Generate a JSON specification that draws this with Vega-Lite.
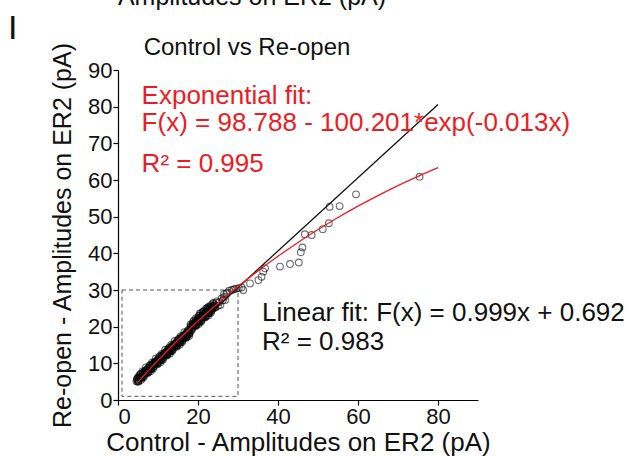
{
  "$schema": "https://vega.github.io/schema/vega-lite/v6.json",
  "width": 360,
  "height": 330,
  "autosize": {"type": "none"},
  "padding": {"left": 118, "top": 70, "right": 151, "bottom": 56},
  "background": "white",
  "config": {
    "view": {"stroke": null},
    "font": "Liberation Sans",
    "axis": {"domainColor": "#000", "tickColor": "#000", "labelColor": "#111", "titleColor": "#111", "grid": false, "labelFont": "Liberation Sans", "titleFont": "Liberation Sans", "titleFontWeight": "normal", "labelFontSize": 22, "titleFontSize": 25, "tickSize": 5, "domainWidth": 1.2, "tickWidth": 1.2, "labelOverlap": false}
  },
  "datasets": {
    "pts": [
      {"x":4.6,"y":5.1},{"x":4.9,"y":6.0},{"x":5.2,"y":5.2},{"x":5.5,"y":6.9},{"x":5.8,"y":6.0},{"x":6.1,"y":7.0},{"x":6.4,"y":6.2},{"x":6.7,"y":8.0},
      {"x":7.0,"y":7.5},{"x":7.3,"y":8.4},{"x":7.6,"y":7.6},{"x":7.9,"y":9.3},{"x":8.2,"y":8.4},{"x":8.5,"y":9.4},{"x":8.8,"y":8.6},{"x":9.1,"y":10.4},
      {"x":9.4,"y":9.9},{"x":9.7,"y":10.8},{"x":10.0,"y":10.0},{"x":10.3,"y":11.7},{"x":10.6,"y":10.8},{"x":10.9,"y":11.8},{"x":11.2,"y":11.0},{"x":11.5,"y":12.8},
      {"x":11.8,"y":12.3},{"x":12.1,"y":13.2},{"x":12.4,"y":12.4},{"x":12.7,"y":14.1},{"x":13.0,"y":13.2},{"x":13.3,"y":14.2},{"x":13.6,"y":13.4},{"x":13.9,"y":15.2},
      {"x":14.2,"y":14.7},{"x":14.5,"y":15.6},{"x":14.8,"y":14.8},{"x":15.1,"y":16.5},{"x":15.4,"y":15.6},{"x":15.7,"y":16.6},{"x":16.0,"y":15.8},{"x":16.3,"y":17.6},
      {"x":16.6,"y":17.1},{"x":16.9,"y":18.0},{"x":17.2,"y":17.2},{"x":17.5,"y":18.9},{"x":17.8,"y":18.0},{"x":18.1,"y":19.8},{"x":18.4,"y":19.0},{"x":18.7,"y":20.8},
      {"x":19.0,"y":20.3},{"x":19.3,"y":21.2},{"x":19.6,"y":20.4},{"x":19.9,"y":22.1},{"x":20.2,"y":21.2},{"x":20.5,"y":22.2},{"x":20.8,"y":21.4},{"x":21.1,"y":23.2},
      {"x":21.4,"y":22.7},{"x":21.7,"y":23.6},{"x":22.0,"y":22.8},{"x":22.3,"y":24.5},{"x":22.6,"y":23.6},{"x":22.9,"y":24.6},{"x":23.2,"y":23.8},{"x":23.5,"y":25.6},
      {"x":23.8,"y":25.1},{"x":24.1,"y":26.0},{"x":24.4,"y":25.2},{"x":24.7,"y":26.9},{"x":25.0,"y":25.7},{"x":25.3,"y":26.7},{"x":25.6,"y":25.9},{"x":25.9,"y":27.7},
      {"x":26.2,"y":27.2},{"x":26.5,"y":28.1},{"x":26.8,"y":27.3},{"x":27.1,"y":29.0},
      {"x":4.75,"y":5.75},{"x":5.05,"y":4.95},{"x":5.35,"y":6.05},{"x":5.65,"y":7.15},{"x":5.95,"y":6.25},{"x":6.25,"y":7.45},{"x":6.55,"y":6.65},{"x":6.85,"y":7.65},
      {"x":7.15,"y":8.15},{"x":7.45,"y":7.35},{"x":7.75,"y":8.45},{"x":8.05,"y":9.55},{"x":8.35,"y":8.65},{"x":8.65,"y":9.85},{"x":8.95,"y":9.05},{"x":9.25,"y":10.05},
      {"x":9.55,"y":10.55},{"x":9.85,"y":9.75},{"x":10.15,"y":10.85},{"x":10.45,"y":11.95},{"x":10.75,"y":11.05},{"x":11.05,"y":12.25},{"x":11.35,"y":11.45},{"x":11.65,"y":12.45},
      {"x":11.95,"y":12.95},{"x":12.25,"y":12.15},{"x":12.55,"y":13.25},{"x":12.85,"y":14.35},{"x":13.15,"y":13.45},{"x":13.45,"y":14.65},{"x":13.75,"y":13.85},{"x":14.05,"y":14.85},
      {"x":14.35,"y":15.35},{"x":14.65,"y":14.55},{"x":14.95,"y":15.65},{"x":15.25,"y":16.75},{"x":15.55,"y":15.85},{"x":15.85,"y":17.05},{"x":16.15,"y":16.25},{"x":16.45,"y":17.25},
      {"x":16.75,"y":17.75},{"x":17.05,"y":16.95},{"x":17.35,"y":18.05},{"x":17.65,"y":19.15},{"x":17.95,"y":18.25},{"x":18.25,"y":20.25},{"x":18.55,"y":19.45},{"x":18.85,"y":20.45},
      {"x":19.15,"y":20.95},{"x":19.45,"y":20.15},{"x":19.75,"y":21.25},{"x":20.05,"y":22.35},{"x":20.35,"y":21.45},{"x":20.65,"y":22.65},{"x":20.95,"y":21.85},{"x":21.25,"y":22.85},
      {"x":21.55,"y":23.35},{"x":21.85,"y":22.55},{"x":22.15,"y":23.65},{"x":22.45,"y":24.75},{"x":22.75,"y":23.85},{"x":23.05,"y":25.05},{"x":23.35,"y":24.25},{"x":23.65,"y":25.25},
      {"x":23.95,"y":25.75},
      {"x":4.9,"y":5.1},{"x":5.2,"y":6.5},{"x":5.5,"y":6.1},{"x":5.8,"y":5.5},{"x":6.1,"y":7.8},{"x":6.4,"y":6.8},{"x":6.7,"y":7.7},{"x":7.0,"y":8.9},
      {"x":7.3,"y":7.5},{"x":7.6,"y":8.9},{"x":7.9,"y":8.5},{"x":8.2,"y":7.9},{"x":8.5,"y":10.2},{"x":8.8,"y":9.2},{"x":9.1,"y":10.1},{"x":9.4,"y":11.3},
      {"x":9.7,"y":9.9},{"x":10.0,"y":11.3},{"x":10.3,"y":10.9},{"x":10.6,"y":10.3},{"x":10.9,"y":12.6},{"x":11.2,"y":11.6},{"x":11.5,"y":12.5},{"x":11.8,"y":13.7},
      {"x":12.1,"y":12.3},{"x":12.4,"y":13.7},{"x":12.7,"y":13.3},{"x":13.0,"y":12.7},{"x":13.3,"y":15.0},{"x":13.6,"y":14.0},{"x":13.9,"y":14.9},{"x":14.2,"y":16.1},
      {"x":14.5,"y":14.7},{"x":14.8,"y":16.1},{"x":15.1,"y":15.7},{"x":15.4,"y":15.1},{"x":15.7,"y":17.4},{"x":16.0,"y":16.4},{"x":16.3,"y":17.3},{"x":16.6,"y":18.5},
      {"x":16.9,"y":17.1},{"x":17.2,"y":18.5},{"x":17.5,"y":18.1},{"x":17.8,"y":17.5},{"x":18.1,"y":20.6},{"x":18.4,"y":19.6},{"x":18.7,"y":20.5},{"x":19.0,"y":21.7},
      {"x":19.3,"y":20.3},{"x":19.6,"y":21.7},{"x":19.9,"y":21.3},{"x":20.2,"y":20.7},{"x":20.5,"y":23.0},{"x":20.8,"y":22.0},{"x":21.1,"y":22.9},{"x":21.4,"y":24.1},
      {"x":21.7,"y":22.7},{"x":22.0,"y":24.1},{"x":22.3,"y":23.7},{"x":22.6,"y":23.1},{"x":22.9,"y":25.4},{"x":23.2,"y":24.4},{"x":23.5,"y":25.3},{"x":23.8,"y":26.5},
      {"x":4.8,"y":5.6},{"x":5.1,"y":5.4},{"x":5.4,"y":6.5},{"x":5.7,"y":6.2},{"x":6.0,"y":6.1},{"x":6.3,"y":7.3},{"x":6.6,"y":7.3},{"x":6.9,"y":7.3},
      {"x":7.2,"y":8.0},{"x":7.5,"y":7.8},{"x":7.8,"y":8.9},{"x":8.1,"y":8.6},{"x":8.4,"y":8.5},{"x":8.7,"y":9.7},{"x":9.0,"y":9.7},{"x":9.3,"y":9.7},
      {"x":9.6,"y":10.4},{"x":9.9,"y":10.2},{"x":10.2,"y":11.3},{"x":10.5,"y":11.0},{"x":10.8,"y":10.9},{"x":11.1,"y":12.1},{"x":11.4,"y":12.1},{"x":11.7,"y":12.1},
      {"x":12.0,"y":12.8},{"x":12.3,"y":12.6},{"x":12.6,"y":13.7},{"x":12.9,"y":13.4},{"x":13.2,"y":13.3},{"x":13.5,"y":14.5},{"x":13.8,"y":14.5},{"x":14.1,"y":14.5},
      {"x":14.4,"y":15.2},{"x":14.7,"y":15.0},{"x":15.0,"y":16.1},{"x":15.3,"y":15.8},{"x":15.6,"y":15.7},{"x":15.9,"y":16.9},{"x":16.2,"y":16.9},{"x":16.5,"y":16.9},
      {"x":16.8,"y":17.6},{"x":17.1,"y":17.4},{"x":17.4,"y":18.5},{"x":17.7,"y":18.2},{"x":18.0,"y":18.9},{"x":18.3,"y":20.1},{"x":18.6,"y":20.1},{"x":18.9,"y":20.1},
      {"x":19.2,"y":20.8},{"x":19.5,"y":20.6},{"x":19.8,"y":21.7},{"x":20.1,"y":21.4},{"x":20.4,"y":21.3},{"x":20.7,"y":22.5},{"x":21.0,"y":22.5},{"x":21.3,"y":22.5},
      {"x":21.6,"y":23.2},{"x":21.9,"y":23.0},{"x":22.2,"y":24.1},{"x":22.5,"y":23.8},{"x":22.8,"y":23.7},{"x":23.1,"y":24.9},{"x":23.4,"y":24.9},{"x":23.7,"y":24.9},
      {"x":24.0,"y":25.6},{"x":24.3,"y":25.4},{"x":24.6,"y":26.5},
      {"x":18.8,"y":21.3},{"x":19.5,"y":22.3},{"x":20.2,"y":23.0},{"x":20.5,"y":23.6},{"x":20.8,"y":23.7},{"x":21.2,"y":24.0},{"x":21.5,"y":24.3},{"x":22.0,"y":24.9},
      {"x":22.3,"y":25.1},{"x":22.6,"y":25.4},{"x":23.2,"y":25.9},{"x":23.8,"y":26.3},
      {"x":26.5,"y":28.9},{"x":27.3,"y":29.3},{"x":27.8,"y":29.8},{"x":28.5,"y":30.0},{"x":29.0,"y":30.2},{"x":29.6,"y":30.4},{"x":30.2,"y":30.5},{"x":30.9,"y":30.7},
      {"x":31.3,"y":30.0},{"x":33.0,"y":31.8},{"x":35.1,"y":32.7},{"x":35.9,"y":33.6},{"x":36.3,"y":35.0},{"x":36.75,"y":35.9},
      {"x":40.5,"y":36.4},{"x":43.0,"y":37.1},{"x":45.2,"y":37.5},{"x":45.7,"y":40.3},{"x":46.1,"y":41.6},{"x":46.7,"y":45.2},{"x":48.4,"y":45.0},{"x":51.2,"y":46.6},
      {"x":52.7,"y":48.2},{"x":52.9,"y":52.7},{"x":55.4,"y":52.9},{"x":59.5,"y":56.1},{"x":75.4,"y":60.9}
    ],
    "linfit": [{"x":4.5,"y":5.19},{"x":80,"y":80.61}],
    "expfit": [
      {"x":5,"y":4.89},{"x":10,"y":10.80},{"x":15,"y":16.34},{"x":20,"y":21.53},{"x":25,"y":26.39},{"x":30,"y":30.95},{"x":35,"y":35.22},{"x":40,"y":39.22},
      {"x":45,"y":42.97},{"x":50,"y":46.48},{"x":55,"y":49.77},{"x":60,"y":52.86},{"x":65,"y":55.75},{"x":70,"y":58.46},{"x":75,"y":60.99},{"x":80,"y":63.37}
    ],
    "box": [{"x":1,"x2":30,"y":1,"y2":30}],
    "redtext": [
      {"label":"Exponential fit:","x":5.9,"y":80.6},
      {"label":"F(x) = 98.788 - 100.201*exp(-0.013x)","x":5.9,"y":73.4},
      {"label":"R² = 0.995","x":5.9,"y":62.1}
    ],
    "blacktext": [
      {"label":"Linear fit: F(x) = 0.999x + 0.692","x":36,"y":21.6},
      {"label":"R² = 0.983","x":36,"y":13.6}
    ],
    "titletext": [{"label":"Control vs Re-open","x":32.25,"y":94.1}],
    "panel": [{"label":"I","x":-27.5,"y":98.5}],
    "cut": [{"label":"Amplitudes on ER2 (pA)","x":33.5,"y":107.8}]
  },
  "encoding": {
    "x": {"field": "x", "type": "quantitative", "scale": {"domain": [0, 90], "nice": false, "zero": false},
          "axis": {"values": [0, 20, 40, 60, 80], "title": "Control - Amplitudes on ER2 (pA)", "titleFontSize": 26, "titlePadding": 2, "labelPadding": 1}},
    "y": {"field": "y", "type": "quantitative", "scale": {"domain": [0, 90], "nice": false, "zero": false},
          "axis": {"values": [0, 10, 20, 30, 40, 50, 60, 70, 80, 90], "title": "Re-open - Amplitudes on ER2 (pA)", "titlePadding": 12, "labelPadding": 1}}
  },
  "layer": [
    {
      "data": {"name": "box"},
      "mark": {"type": "rect", "filled": false, "stroke": "#555", "strokeWidth": 1, "strokeDash": [4, 3]},
      "encoding": {
        "x2": {"field": "x2"},
        "y2": {"field": "y2"}
      }
    },
    {
      "data": {"name": "pts"},
      "mark": {"type": "point", "shape": "circle", "filled": false, "size": 45, "stroke": "#000", "strokeWidth": 1.1, "strokeOpacity": 0.82}
    },
    {
      "data": {"name": "linfit"},
      "mark": {"type": "line", "color": "#111", "strokeWidth": 1.3}
    },
    {
      "data": {"name": "expfit"},
      "mark": {"type": "line", "color": "#ed1c24", "strokeWidth": 1.3, "interpolate": "monotone"}
    },
    {
      "data": {"name": "redtext"},
      "mark": {"type": "text", "align": "left", "baseline": "alphabetic", "fontSize": 26, "color": "#ed1c24", "font": "Liberation Sans"},
      "encoding": {"text": {"field": "label"}}
    },
    {
      "data": {"name": "blacktext"},
      "mark": {"type": "text", "align": "left", "baseline": "alphabetic", "fontSize": 26, "color": "#111", "font": "Liberation Sans"},
      "encoding": {"text": {"field": "label"}}
    },
    {
      "data": {"name": "titletext"},
      "mark": {"type": "text", "align": "center", "baseline": "alphabetic", "fontSize": 24, "color": "#111", "font": "Liberation Sans"},
      "encoding": {"text": {"field": "label"}}
    },
    {
      "data": {"name": "panel"},
      "mark": {"type": "text", "align": "left", "baseline": "alphabetic", "fontSize": 34, "color": "#111", "font": "Liberation Sans"},
      "encoding": {"text": {"field": "label"}}
    },
    {
      "data": {"name": "cut"},
      "mark": {"type": "text", "align": "center", "baseline": "alphabetic", "fontSize": 25, "color": "#111", "font": "Liberation Sans"},
      "encoding": {"text": {"field": "label"}}
    }
  ]
}
